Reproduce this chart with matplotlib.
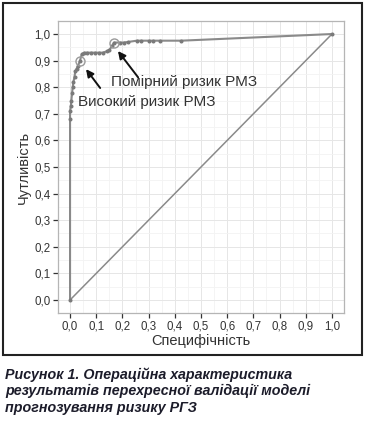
import matplotlib
matplotlib.use("Agg")
import matplotlib.pyplot as plt
from matplotlib.patches import Rectangle
from matplotlib.ticker import MultipleLocator, FuncFormatter

plt.rcParams['font.family'] = ['Liberation Sans', 'DejaVu Sans']

# ROC data (x = 1 - specificity, y = sensitivity)
fpr = [0.0, 0.0, 0.0, 0.003, 0.005, 0.008, 0.010, 0.013, 0.017, 0.020, 0.025,
       0.030, 0.038, 0.045, 0.055, 0.065, 0.080, 0.095, 0.110, 0.125, 0.140,
       0.150, 0.160, 0.168, 0.190, 0.205, 0.220, 0.255, 0.270, 0.300, 0.315,
       0.345, 0.425, 1.0]
tpr = [0.0, 0.68, 0.71, 0.73, 0.75, 0.78, 0.80, 0.82, 0.84, 0.86, 0.87,
       0.88, 0.90, 0.925, 0.93, 0.93, 0.93, 0.93, 0.93, 0.93, 0.935,
       0.94, 0.955, 0.968, 0.968, 0.968, 0.97, 0.975, 0.975, 0.975, 0.975,
       0.975, 0.975, 1.0]
diag_x = [0.0, 1.0]
diag_y = [0.0, 1.0]

cut_high = (0.038, 0.90)
cut_mid = (0.168, 0.968)
label_high = "Високий ризик РМЗ"
label_mid = "Помірний ризик РМЗ"
xlabel = "Специфічність"
ylabel = "Чутливість"
caption = ("Рисунок 1. Операційна характеристика\n"
           "результатів перехресної валідації моделі\n"
           "прогнозування ризику РГЗ")

fig = plt.figure(figsize=(3.66, 4.23), dpi=100)

# outer frame
fig.patches.append(Rectangle((3/366, 1-355/423), 359/366, 352/423,
                             transform=fig.transFigure, fill=False,
                             edgecolor='#222222', linewidth=1.5))

ax = fig.add_axes([58/366, 1-313/423, 286/366, 292/423])
ax.set_xlim(-0.046, 1.046)
ax.set_ylim(-0.049, 1.049)
ax.xaxis.set_major_locator(MultipleLocator(0.1))
ax.yaxis.set_major_locator(MultipleLocator(0.1))
ax.xaxis.set_minor_locator(MultipleLocator(0.05))
ax.yaxis.set_minor_locator(MultipleLocator(0.05))
fmt = FuncFormatter(lambda v, p: f"{v:.1f}".replace('.', ','))
ax.xaxis.set_major_formatter(fmt)
ax.yaxis.set_major_formatter(fmt)
ax.grid(which='major', color='#e6e6e6', linewidth=0.7)
ax.grid(which='minor', color='#f3f3f3', linewidth=0.6)
ax.set_axisbelow(True)
for s in ax.spines.values():
    s.set_color('#b5b5b5')
    s.set_linewidth(0.9)
ax.tick_params(which='major', length=3.5, width=0.9, color='#333333',
               labelsize=8.3, labelcolor='#333333', pad=2)
ax.tick_params(which='minor', length=0)

line_col = '#8a8a8a'
ax.plot(diag_x, diag_y, color=line_col, linewidth=1.1, zorder=2)
ax.plot(fpr, tpr, color=line_col, linewidth=1.5, marker='o', markersize=1.9,
        markerfacecolor='#7a7a7a', markeredgecolor='#7a7a7a', zorder=3)
for c in (cut_high, cut_mid):
    ax.plot([c[0]], [c[1]], marker='o', markersize=6.5, markerfacecolor='none',
            markeredgecolor='#9a9a9a', markeredgewidth=1.0, zorder=4)

ax.text(0.155, 0.82, label_mid, fontsize=11, color='#333333',
        ha='left', va='center')
ax.text(0.03, 0.745, label_high, fontsize=11, color='#333333',
        ha='left', va='center')
ax.annotate('', xy=(0.183, 0.936), xytext=(0.26, 0.837),
            arrowprops=dict(arrowstyle='-|>', color='#111111', lw=1.4,
                            mutation_scale=11, shrinkA=0, shrinkB=0))
ax.annotate('', xy=(0.061, 0.868), xytext=(0.115, 0.797),
            arrowprops=dict(arrowstyle='-|>', color='#111111', lw=1.4,
                            mutation_scale=11, shrinkA=0, shrinkB=0))

ax.set_xlabel(xlabel, fontsize=10.5, color='#333333', labelpad=1)
ax.set_ylabel(ylabel, fontsize=10.5, color='#333333', labelpad=2)

fig.text(5/366, 1-367/423, caption, fontsize=10.3, fontweight='bold',
         fontstyle='italic', color='#1c1c2a', ha='left', va='top',
         linespacing=1.22)

fig.savefig('out.png', dpi=100)
